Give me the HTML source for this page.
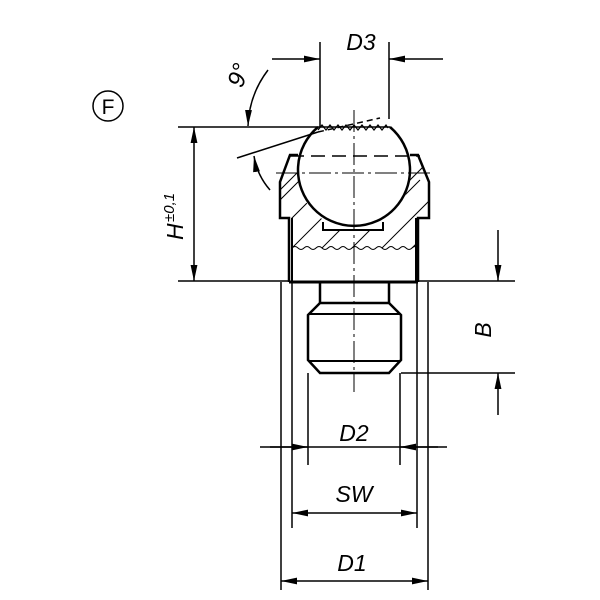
<!DOCTYPE html>
<html><head><style>html,body{margin:0;padding:0;background:#fff}svg{display:block}
text{font-family:"Liberation Sans",sans-serif;font-style:italic;fill:#000}</style></head><body>
<svg width="600" height="600" viewBox="0 0 600 600" xmlns="http://www.w3.org/2000/svg">
<defs>
<marker id="a" viewBox="0 0 14 6" refX="14" refY="3" markerWidth="16" markerHeight="7" markerUnits="userSpaceOnUse" orient="auto-start-reverse"><path d="M0,0L14,3L0,6z" fill="#000"/></marker>
<clipPath id="hc"><path d="M290,155 L280,182 L280,218 L292,218 L292,248 L416,248 L416,218 L429,218 L429,182 L418,155 Z"/></clipPath>
</defs>
<g stroke="#000" fill="none">
<circle cx="108" cy="106" r="15" stroke-width="1.5"/>
<g clip-path="url(#hc)" stroke-width="1">
<path d="M250,260 L330,180 M280,260 L360,180 M310,260 L390,180 M340,260 L420,180 M370,260 L450,180 M400,260 L480,180 M220,260 L300,180 M250,220 L300,170 M360,230 L440,150"/>
</g>
<circle cx="354" cy="173" r="56" fill="#fff" stroke="none"/>
<rect x="323" y="222" width="60" height="8" fill="#fff" stroke="none"/>
<path d="M298,155 L290,155 L280,182 L280,218 L289,218 L289,282 M410,155 L418,155 L429,182 L429,218 L418,218 L418,282" stroke-width="2.5"/>
<path d="M292,218 L292,282 M416,218 L416,282" stroke-width="2"/>
<path d="M289,282 L418,282" stroke-width="3"/>
<path d="M318,127 A56,56 0 1 0 390,127" stroke-width="2.5"/>
<path d="M318,127 L390,127" stroke-width="1.5"/>
<path d="M318,130 l4,-5 l4,5 l4,-5 l4,5 l4,-5 l4,5 l4,-5 l4,5 l4,-5 l4,5 l4,-5 l4,5 l4,-5 l4,5 l4,-5 l4,5 l4,-5 l2,3" stroke-width="1.2"/>
<path d="M323,222 L323,230 L383,230 L383,222" stroke-width="2"/>
<path d="M292,248 q3,-3 6,0 q3,3 6,0 q3,-3 6,0 q3,3 6,0 q3,-3 6,0 q3,3 6,0 q3,-3 6,0 q3,3 6,0 q3,-3 6,0 q3,3 6,0 q3,-3 6,0 q3,3 6,0 q3,-3 6,0 q3,3 6,0 q3,-3 6,0 q3,3 6,0 q3,-3 6,0 q3,3 6,0 q3,-3 6,0 q3,3 6,0 q3,-3 6,0" stroke-width="1"/>
<path d="M290,156 L420,156" stroke-width="1.5" stroke-dasharray="14,7"/>
<path d="M276,173 L432,173" stroke-width="1" stroke-dasharray="22,4,3,4"/>
<path d="M354,110 L354,392" stroke-width="1" stroke-dasharray="22,4,3,4"/>
<path d="M320,282 L320,303 M389,282 L389,303" stroke-width="2.5"/>
<path d="M320,303 L389,303 L401,315 L401,360 L389,373 L320,373 L308,360 L308,315 Z" stroke-width="2.5"/>
<path d="M308,314 L401,314 M308,361 L401,361" stroke-width="2"/>
<g stroke-width="1.5">
<path d="M320,127 L320,42 M389,119 L389,42"/>
<path d="M272,59 L320,59" marker-end="url(#a)"/>
<path d="M443,59 L389,59" marker-end="url(#a)"/>
<path d="M178,127 L318,127 M178,281 L289,281 M418,281 L515,281 M401,373 L515,373"/>
<path d="M194,127 L194,281" marker-start="url(#a)" marker-end="url(#a)"/>
<path d="M498,230 L498,281" marker-end="url(#a)"/>
<path d="M498,415 L498,373" marker-end="url(#a)"/>
<path d="M281,282 L281,590 M428,282 L428,590 M292,282 L292,528 M417,282 L417,528 M308,373 L308,465 M400,373 L400,465"/>
<path d="M260,447 L447,447"/>
<path d="M270,447 L308,447" marker-end="url(#a)"/>
<path d="M438,447 L400,447" marker-end="url(#a)"/>
<path d="M292,513 L417,513" marker-start="url(#a)" marker-end="url(#a)"/>
<path d="M281,581 L428,581" marker-start="url(#a)" marker-end="url(#a)"/>
<path d="M237,158 L318,132"/>
<path d="M318,132 L380,118" stroke-dasharray="6,4"/>
<path d="M268,70 Q249,95 248,126" marker-end="url(#a)"/>
<path d="M270,190 Q257,175 254,156" marker-end="url(#a)"/>
</g>
</g>
<text x="361" y="50" font-size="23" text-anchor="middle">D3</text>
<text x="354" y="441" font-size="23" text-anchor="middle">D2</text>
<text x="354" y="502" font-size="23" text-anchor="middle">SW</text>
<text x="352" y="571" font-size="23" text-anchor="middle">D1</text>
<text x="108" y="114" font-size="21" text-anchor="middle" style="font-style:normal">F</text>
<text transform="translate(491,330) rotate(-90)" font-size="23" text-anchor="middle">B</text>
<text transform="translate(183,240) rotate(-90)" font-size="23">H</text>
<text transform="translate(174,222) rotate(-90)" font-size="15">±0,1</text>
<text transform="translate(246,78) rotate(-70)" font-size="24" text-anchor="middle">9°</text>
</svg>
</body></html>
